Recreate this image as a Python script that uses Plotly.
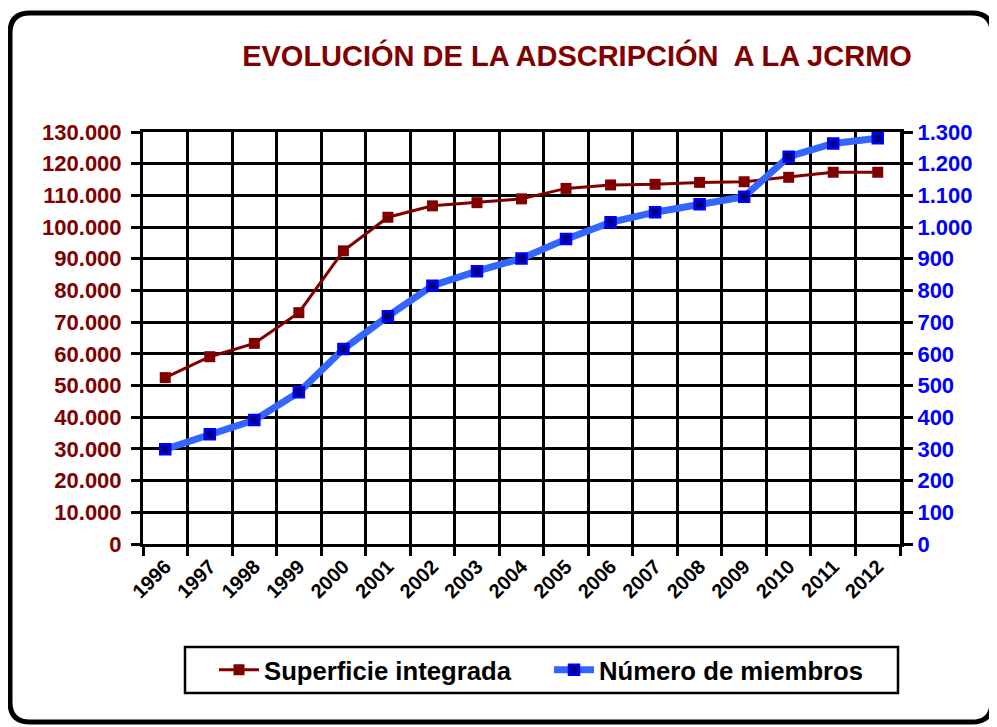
import plotly.graph_objects as go

years = [str(y) for y in range(1996, 2013)]
superficie = [52500, 59100, 63300, 73000, 92500, 103100, 106700, 107700, 108900,
              112200, 113300, 113500, 114100, 114300, 115700, 117300, 117300]
miembros = [299, 346, 391, 479, 615, 719, 815, 861, 901, 962, 1015, 1047, 1072,
            1096, 1222, 1264, 1280]
left_ticks = list(range(0, 130001, 10000))
right_ticks = list(range(0, 1301, 100))

OFF = 8  # page body margin
W, H = 997 - OFF, 727 - OFF
# plot area in screen pixels
SL, SR, ST, SB = 143, 900, 132, 544
ML, MR, MT, MB = SL - OFF, W - (SR - OFF), ST - OFF, H - (SB - OFF)
PW, PH = SR - SL, SB - ST
FONT = "Liberation Sans, Arial, sans-serif"
DARKRED = "#800000"
BLUE = "#0000FF"


def px(x):  # screen x -> paper
    return (x - SL) / PW


def py(y):  # screen y -> paper
    return (SB - y) / PH


fig = go.Figure()
fig.add_trace(go.Scatter(
    x=years, y=superficie, name="Superficie integrada", mode="lines+markers",
    line=dict(color=DARKRED, width=3),
    marker=dict(symbol="square", size=11, color=DARKRED),
))
fig.add_trace(go.Scatter(
    x=years, y=miembros, name="Número de miembros", mode="lines+markers", yaxis="y2",
    line=dict(color="#3366FF", width=7),
    marker=dict(symbol="square", size=10, color="#000080", line=dict(color=BLUE, width=2.5)),
))

# rounded outer frame
l, r, t, b, rad = 10, 992, 13, 722, 20
path = (f"M {px(l+rad)},{py(t)} L {px(r-rad)},{py(t)} Q {px(r)},{py(t)} {px(r)},{py(t+rad)} "
        f"L {px(r)},{py(b-rad)} Q {px(r)},{py(b)} {px(r-rad)},{py(b)} "
        f"L {px(l+rad)},{py(b)} Q {px(l)},{py(b)} {px(l)},{py(b-rad)} "
        f"L {px(l)},{py(t+rad)} Q {px(l)},{py(t)} {px(l+rad)},{py(t)} Z")
fig.add_shape(type="path", xref="paper", yref="paper", path=path,
              line=dict(color="black", width=5), layer="below")
# legend box
fig.add_shape(type="rect", xref="paper", yref="paper",
              x0=px(185), x1=px(898), y0=py(647), y1=py(693),
              line=dict(color="black", width=2.5), layer="below")

fig.update_layout(
    width=W, height=H,
    margin=dict(l=ML, r=MR, t=MT, b=MB, pad=0),
    paper_bgcolor="white", plot_bgcolor="white",
    separators=",.",
    font=dict(family=FONT, weight="bold"),
    title=dict(text="EVOLUCIÓN DE LA ADSCRIPCIÓN  A LA JCRMO",
               font=dict(family=FONT, size=29, color=DARKRED, weight="bold"),
               xref="container", x=(577 - OFF) / W, xanchor="center",
               yref="container", y=1 - (56 - OFF) / H, yanchor="middle"),
    xaxis=dict(type="category", tickson="boundaries", showgrid=True, gridcolor="black",
               gridwidth=3, ticks="outside", ticklen=9, tickwidth=3, tickcolor="black",
               showline=True, linecolor="black", linewidth=3, mirror=True,
               tickangle=-45, tickfont=dict(family=FONT, size=20, color="black", weight="bold"),
               range=[-0.5, len(years) - 0.5]),
    yaxis=dict(range=[0, 130000], tickvals=left_ticks, tickformat=",d",
               showgrid=True, gridcolor="black", gridwidth=3, zeroline=False,
               ticks="outside", ticklen=9, tickwidth=3, tickcolor="black",
               ticklabelstandoff=5,
               showline=True, linecolor="black", linewidth=3,
               tickfont=dict(family=FONT, size=22, color=DARKRED, weight="bold")),
    yaxis2=dict(range=[0, 1300], tickvals=right_ticks, tickformat=",d", overlaying="y",
                side="right", showgrid=False, zeroline=False,
                ticks="outside", ticklen=9, tickwidth=3, tickcolor="black",
                showline=True, linecolor="black", linewidth=4,
                tickfont=dict(family=FONT, size=22, color=BLUE, weight="bold")),
    legend=dict(orientation="h", x=px(214), xanchor="left",
                y=py(670), yanchor="middle", borderwidth=0, bgcolor="rgba(0,0,0,0)",
                font=dict(family=FONT, size=25.7, color="black", weight="bold"),
                entrywidth=280, entrywidthmode="pixels", itemwidth=40),
)

fig.write_html("out.html")
